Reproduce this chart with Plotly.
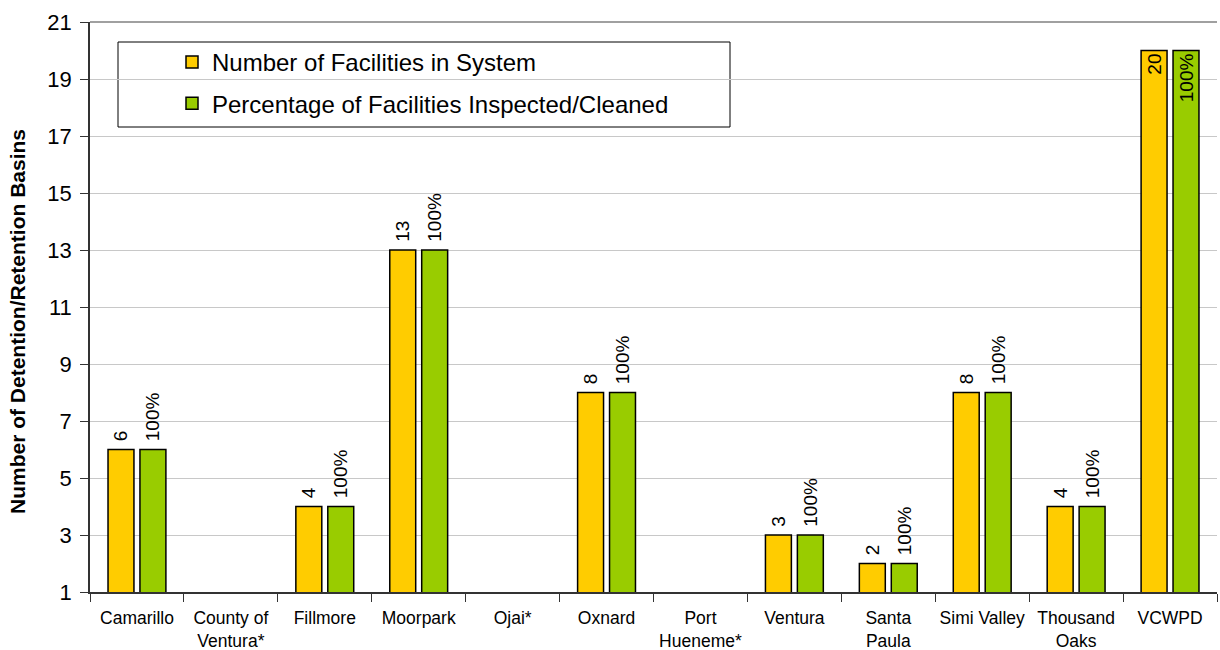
import plotly.graph_objects as go

categories = ["Camarillo", "County of<br>Ventura*", "Fillmore", "Moorpark", "Ojai*", "Oxnard",
              "Port<br>Hueneme*", "Ventura", "Santa<br>Paula", "Simi Valley", "Thousand<br>Oaks", "VCWPD"]
num_facilities = [6, None, 4, 13, None, 8, None, 3, 2, 8, 4, 20]
pct_inspected = [100, None, 100, 100, None, 100, None, 100, 100, 100, 100, 100]

y_ticks = [1, 3, 5, 7, 9, 11, 13, 15, 17, 19, 21]

YELLOW = "#FFCC00"
GREEN = "#99CC00"
FONT = "Liberation Sans, Arial, sans-serif"

ymax = 21
positions = ["inside" if (v is not None and v >= ymax - 1.5) else "outside" for v in num_facilities]

def label(s, pos):
    if s is None:
        return None
    return s if pos == "inside" else "\u00a0" + s

num_text = [label(None if v is None else str(v), p) for v, p in zip(num_facilities, positions)]
pct_text = [label(None if q is None else f"{q}%", p) for q, p in zip(pct_inspected, positions)]
# green bars are drawn at the height of the facility count (100% of facilities)
pct_height = [None if (q is None or n is None) else n * q / 100 for n, q in zip(num_facilities, pct_inspected)]

fig = go.Figure()
fig.add_trace(go.Bar(
    name="Number of Facilities in System", x=categories, y=num_facilities,
    marker=dict(color=YELLOW, line=dict(color="black", width=1.5)),
    text=num_text, textposition=positions, textangle=-90, insidetextanchor="end",
    textfont=dict(family=FONT, size=19, color="black"), constraintext="none",
    cliponaxis=False, legendgroup="a",
))
fig.add_trace(go.Bar(
    name="Percentage of Facilities Inspected/Cleaned", x=categories, y=pct_height,
    marker=dict(color=GREEN, line=dict(color="black", width=1.5)),
    text=pct_text, textposition=positions, textangle=-90, insidetextanchor="end",
    textfont=dict(family=FONT, size=19, color="black"), constraintext="none",
    cliponaxis=False, legendgroup="b",
))

L, R, T, B = 90, 3, 22, 58
W, H = 1220, 650
pw = W - L - R
ph = H - T - B

def px_x(x):
    return (x - L) / pw

def px_y(y):
    return (H - B - y) / ph

fig.update_layout(
    width=W, height=H,
    margin=dict(l=L, r=R, t=T, b=B, autoexpand=False),
    paper_bgcolor="white", plot_bgcolor="white",
    barmode="group", bargap=0.32, bargroupgap=0.1875,
    font=dict(family=FONT, color="black"),
    showlegend=True,
    legend=dict(
        x=px_x(172), y=px_y(40), xanchor="left", yanchor="top",
        bgcolor="rgba(0,0,0,0)", borderwidth=0,
        font=dict(family=FONT, size=24, color="black"),
        traceorder="grouped", tracegroupgap=7,
    ),
    xaxis=dict(
        showline=True, linecolor="#333333", linewidth=1.5,
        ticks="outside", tickson="boundaries", ticklen=8, tickcolor="#333333",
        tickfont=dict(family=FONT, size=17.5, color="black"),
        tickangle=0, automargin=False,
        ticklabelstandoff=9,
        showgrid=False,
    ),
    yaxis=dict(
        range=[1, 21], tickvals=y_ticks,
        showline=True, linecolor="#333333", linewidth=1.5,
        ticks="outside", ticklen=8, tickcolor="#333333",
        tickfont=dict(family=FONT, size=22, color="black"),
        ticklabelstandoff=4, automargin=False,
        showgrid=True, gridcolor="#C8C8C8", gridwidth=1,
        zeroline=False,
    ),
    shapes=[
        dict(type="line", xref="paper", yref="paper", x0=0, x1=1, y0=1, y1=1,
             line=dict(color="#808080", width=1.5)),
        dict(type="rect", xref="paper", yref="paper",
             x0=px_x(118), x1=px_x(730), y0=px_y(127), y1=px_y(42),
             line=dict(color="black", width=1), fillcolor="white", layer="below"),
    ],
    annotations=[
        dict(text="<b>Number of Detention/Retention Basins</b>", xref="paper", yref="paper",
             x=px_x(17), y=px_y(322), xanchor="center", yanchor="middle", textangle=-90,
             showarrow=False, font=dict(family=FONT, size=21, color="black")),
    ],
)

fig.write_html("out.html", config={"displayModeBar": False},
               post_script="document.body.style.margin='0px';document.body.style.overflow='hidden';")
